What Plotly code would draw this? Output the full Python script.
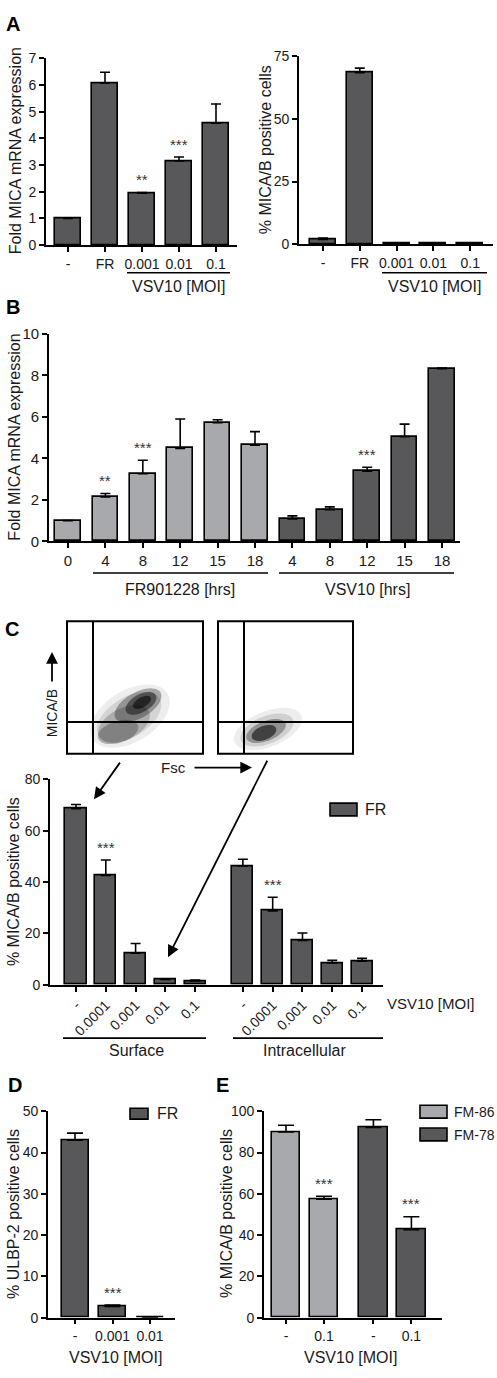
import numpy as np
import plotly.graph_objects as go

W, H = 497, 1378
FONT = "Liberation Sans, Arial, sans-serif"
DARK = "#58585b"
LIGHT = "#a8a9ac"

# ---------------- data ----------------
A_cats = ["-", "FR", "0.001", "0.01", "0.1"]
A_mrna = [1.0, 6.08, 1.94, 3.15, 4.57]
A_mrna_err = [0.0, 0.4, 0.03, 0.15, 0.72]
A_mrna_sig = ["", "", "**", "***", ""]
A_pct = [1.8, 68.5, 0.3, 0.3, 0.3]
A_pct_err = [0.6, 1.8, 0.0, 0.0, 0.0]

B_cats_fr = ["0", "4", "8", "12", "15", "18"]
B_fr = [1.0, 2.14, 3.26, 4.48, 5.72, 4.63]
B_fr_err = [0.0, 0.17, 0.65, 1.42, 0.14, 0.66]
B_fr_sig = ["", "**", "***", "", "", ""]
B_cats_vsv = ["4", "8", "12", "15", "18"]
B_vsv = [1.08, 1.53, 3.38, 5.05, 8.32]
B_vsv_err = [0.15, 0.13, 0.19, 0.6, 0.03]
B_vsv_sig = ["", "", "***", "", ""]

C_cats = ["-", "0.0001", "0.001", "0.01", "0.1"]
C_surface = [68.6, 42.6, 12.3, 2.1, 1.5]
C_surface_err = [1.6, 6.0, 3.8, 0.2, 0.4]
C_surface_sig = ["", "***", "", "", ""]
C_intra = [46.3, 28.8, 17.3, 8.5, 9.2]
C_intra_err = [2.6, 5.3, 2.9, 1.0, 1.1]
C_intra_sig = ["", "***", "", "", ""]

D_cats = ["-", "0.001", "0.01"]
D_fr = [43.0, 2.7, 0.0]
D_fr_err = [1.7, 0.35, 0.0]
D_sig = ["", "***", ""]

E_cats = ["-", "0.1"]
E_fm86 = [90.0, 57.4]
E_fm86_err = [3.2, 1.4]
E_fm78 = [92.2, 42.6]
E_fm78_err = [3.7, 6.3]
E_sig = ["", "***"]

# ---------------- helpers ----------------
def X(p):
    return p / W

def Y(p):
    return 1 - p / H

fig = go.Figure()
annotations = []
shapes = []


def axname(n, kind):
    return kind + ("" if n == 1 else str(n))


def setup_axes(n, left, right, top, bottom, c0, s, ymax, dtick, tickvals, ticktext,
               tickangle=0, tfs=14):
    xr = [(left - c0) / s, (right - c0) / s]
    fig.update_layout({
        axname(n, "xaxis"): dict(
            domain=[X(left), X(right)], range=xr, anchor=axname(n, "y"),
            showline=True, linecolor="black", linewidth=1.6,
            ticks="outside", ticklen=5, tickwidth=1.5, tickcolor="black",
            tickvals=tickvals, ticktext=ticktext, tickangle=tickangle,
            tickfont=dict(size=tfs, color="#1a1a1a"), showgrid=False, zeroline=False,
            fixedrange=True),
        axname(n, "yaxis"): dict(
            domain=[Y(bottom), Y(top)], range=[0, ymax], anchor=axname(n, "x"),
            showline=True, linecolor="black", linewidth=1.6,
            ticks="outside", ticklen=5, tickwidth=1.5, tickcolor="black",
            tick0=0, dtick=dtick, tickfont=dict(size=tfs, color="#1a1a1a"),
            showgrid=False, zeroline=False, fixedrange=True),
    })


def add_bars(n, xs, vals, errs, color, bw, cap=5, sig=None):
    xa = "x" if n == 1 else f"x{n}"
    ya = "y" if n == 1 else f"y{n}"
    fig.add_trace(go.Bar(
        x=xs, y=vals, width=bw, xaxis=xa, yaxis=ya,
        marker=dict(color=color, line=dict(color="black", width=1.6)),
        error_y=dict(type="data", array=errs, arrayminus=[0] * len(errs),
                     symmetric=False, color="black", thickness=1.6, width=cap),
        showlegend=False, hoverinfo="skip"))
    if sig:
        for xv, v, e, s in zip(xs, vals, errs, sig):
            if s:
                annotations.append(dict(
                    x=xv, y=v + e, xref=xa, yref=ya, text=s, showarrow=False,
                    yanchor="middle", yshift=13,
                    font=dict(size=15, color="#333")))


def text(x, y, t, size=16, angle=0, xanchor="center", bold=False, color="#1a1a1a"):
    annotations.append(dict(
        x=X(x), y=Y(y), xref="paper", yref="paper",
        text=f"<b>{t}</b>" if bold else t, showarrow=False, textangle=angle,
        xanchor=xanchor, yanchor="middle", font=dict(size=size, color=color)))


def hline(x0, x1, y, w=1.6):
    shapes.append(dict(type="line", xref="paper", yref="paper",
                       x0=X(x0), x1=X(x1), y0=Y(y), y1=Y(y),
                       line=dict(color="black", width=w)))


def vline(x, y0, y1, w=2):
    shapes.append(dict(type="line", xref="paper", yref="paper",
                       x0=X(x), x1=X(x), y0=Y(y0), y1=Y(y1),
                       line=dict(color="black", width=w)))


def rect(x0, y0, x1, y1, fill="rgba(0,0,0,0)", w=1.6):
    shapes.append(dict(type="rect", xref="paper", yref="paper",
                       x0=X(x0), x1=X(x1), y0=Y(y1), y1=Y(y0),
                       line=dict(color="black", width=w), fillcolor=fill))


def arrow(hx, hy, tx, ty):
    annotations.append(dict(
        x=X(hx), y=Y(hy), xref="paper", yref="paper", text="",
        showarrow=True, ax=tx - hx, ay=ty - hy, arrowhead=2, arrowsize=1.3,
        arrowwidth=1.8, arrowcolor="black", standoff=0))


def ellipse(cx, cy, rx, ry, ang, opacity):
    t = np.linspace(0, 2 * np.pi, 60, endpoint=False)
    a = np.deg2rad(ang)
    xs = cx + rx * np.cos(t) * np.cos(a) - ry * np.sin(t) * np.sin(a)
    ys = cy + rx * np.cos(t) * np.sin(a) + ry * np.sin(t) * np.cos(a)
    pts = [f"{X(x):.5f},{Y(y):.5f}" for x, y in zip(xs, ys)]
    path = "M " + " L ".join(pts) + " Z"
    shapes.append(dict(type="path", xref="paper", yref="paper", path=path,
                       fillcolor=f"rgba(0,0,0,{opacity})", line=dict(width=0),
                       layer="below"))


# ---------------- panel A (left) ----------------
pos = list(range(len(A_cats)))
setup_axes(1, 46, 237, 50, 239, 68, 37, 7, 1, pos, A_cats)
add_bars(1, pos, A_mrna, A_mrna_err, DARK, 0.68, cap=5, sig=A_mrna_sig)
text(15, 144, "Fold MICA mRNA expression", angle=-90)
hline(127, 230, 267)
text(178, 281, "VSV10 [MOI]")

# ---------------- panel A (right) ----------------
setup_axes(2, 299, 493, 48, 238, 323, 36.8, 75, 25, pos, A_cats)
add_bars(2, pos, A_pct, A_pct_err, DARK, 0.71, cap=5)
text(265, 143, "% MICA/B positive cells", angle=-90)
hline(382, 487, 267)
text(434, 281, "VSV10 [MOI]")

# ---------------- panel B ----------------
pos_fr = list(range(len(B_fr)))
pos_vsv = [len(B_fr) + i for i in range(len(B_vsv))]
setup_axes(3, 49, 460, 329, 539, 68, 37.4, 10, 2, pos_fr + pos_vsv,
           B_cats_fr + B_cats_vsv, tfs=15)
add_bars(3, pos_fr, B_fr, B_fr_err, LIGHT, 0.68, cap=5, sig=B_fr_sig)
add_bars(3, pos_vsv, B_vsv, B_vsv_err, DARK, 0.68, cap=5, sig=B_vsv_sig)
text(15, 434, "Fold MICA mRNA expression", angle=-90)
hline(93, 268, 571)
hline(279, 454, 571)
text(180, 588, "FR901228 [hrs]")
text(367, 588, "VSV10 [hrs]")

# ---------------- panel C : flow plots ----------------
for (bx0, bx1, gx) in [(67, 203, 93), (218, 353, 244)]:
    rect(bx0, 620, bx1, 754, w=2)
    vline(gx, 620, 754)
    hline(bx0, bx1, 722, w=2)
# density clouds (drawn as shaded ellipses)
ellipse(130, 716, 44, 26, -32, 0.07)
ellipse(129, 717, 36, 20, -32, 0.10)
ellipse(124, 724, 28, 16, -28, 0.18)
ellipse(118, 732, 21, 11, -18, 0.25)
ellipse(138, 705, 26, 13, -30, 0.30)
ellipse(141, 703, 17, 9, -30, 0.45)
ellipse(142, 702, 10, 5, -30, 0.55)
ellipse(268, 729, 36, 18, -22, 0.07)
ellipse(267, 730, 28, 14, -22, 0.12)
ellipse(266, 731, 21, 10, -22, 0.30)
ellipse(264, 733, 13, 7, -22, 0.55)
text(52, 713, "MICA/B", size=14, angle=-90)
arrow(52, 651, 52, 682)
text(173, 768, "Fsc", size=15)
arrow(252, 768, 193, 768)
arrow(94, 800, 121, 762)
arrow(168, 960, 268, 762)

# ---------------- panel C : bars ----------------
gapC = 5.6
pos_s = list(range(len(C_surface)))
pos_i = [gapC + i for i in range(len(C_intra))]
setup_axes(4, 50, 383, 780, 988, 76, 29.8, 80, 20, pos_s + pos_i, C_cats + C_cats,
           tickangle=-45, tfs=14)
add_bars(4, pos_s, C_surface, C_surface_err, DARK, 0.71, cap=5, sig=C_surface_sig)
add_bars(4, pos_i, C_intra, C_intra_err, DARK, 0.71, cap=5, sig=C_intra_sig)
text(13, 884, "% MICA/B positive cells", angle=-90)
text(385, 1007, "VSV10 [MOI]", size=15, xanchor="left")
hline(63, 206, 1042)
hline(233, 383, 1042)
text(136, 1055, "Surface")
text(304, 1055, "Intracellular")
rect(330, 804, 357, 817, fill=DARK)
text(363, 811, "FR", size=16, xanchor="left")

# ---------------- panel D ----------------
pos_d = list(range(len(D_fr)))
setup_axes(5, 48, 175, 1116, 1325, 75, 37.5, 50, 10, pos_d, D_cats)
add_bars(5, pos_d, D_fr, D_fr_err, DARK, 0.72, cap=8, sig=D_sig)
text(14, 1220, "% ULBP-2 positive cells", angle=-90)
text(115, 1365, "VSV10 [MOI]")
rect(130, 1113, 148, 1124, fill=DARK)
text(155, 1118, "FR", size=16, xanchor="left")

# ---------------- panel E ----------------
gapE = 2.3
pos_86 = list(range(len(E_fm86)))
pos_78 = [gapE + i for i in range(len(E_fm78))]
setup_axes(6, 264, 442, 1116, 1325, 286, 38, 100, 20, pos_86 + pos_78, E_cats + E_cats)
add_bars(6, pos_86, E_fm86, E_fm86_err, LIGHT, 0.75, cap=8, sig=E_sig)
add_bars(6, pos_78, E_fm78, E_fm78_err, DARK, 0.75, cap=8, sig=E_sig)
text(227, 1220, "% MICA/B positive cells", angle=-90)
text(350, 1365, "VSV10 [MOI]")
rect(420, 1110, 447, 1123, fill=LIGHT)
rect(420, 1133, 447, 1146, fill=DARK)
text(452, 1117, "FM-86", size=14, xanchor="left")
text(452, 1140, "FM-78", size=14, xanchor="left")

# ---------------- panel letters ----------------
text(13, 15, "A", size=20, bold=True, color="black")
text(13, 302, "B", size=20, bold=True, color="black")
text(12, 628, "C", size=20, bold=True, color="black")
text(15, 1089, "D", size=20, bold=True, color="black")
text(222, 1089, "E", size=20, bold=True, color="black")

fig.update_layout(
    width=W, height=H, margin=dict(l=0, r=0, t=0, b=0),
    paper_bgcolor="white", plot_bgcolor="white",
    font=dict(family=FONT, color="#1a1a1a"),
    showlegend=False, bargap=0,
    annotations=annotations, shapes=shapes,
)

fig.write_html("out.html", config={"displayModeBar": False},
               post_script="document.body.style.margin='0px';")
